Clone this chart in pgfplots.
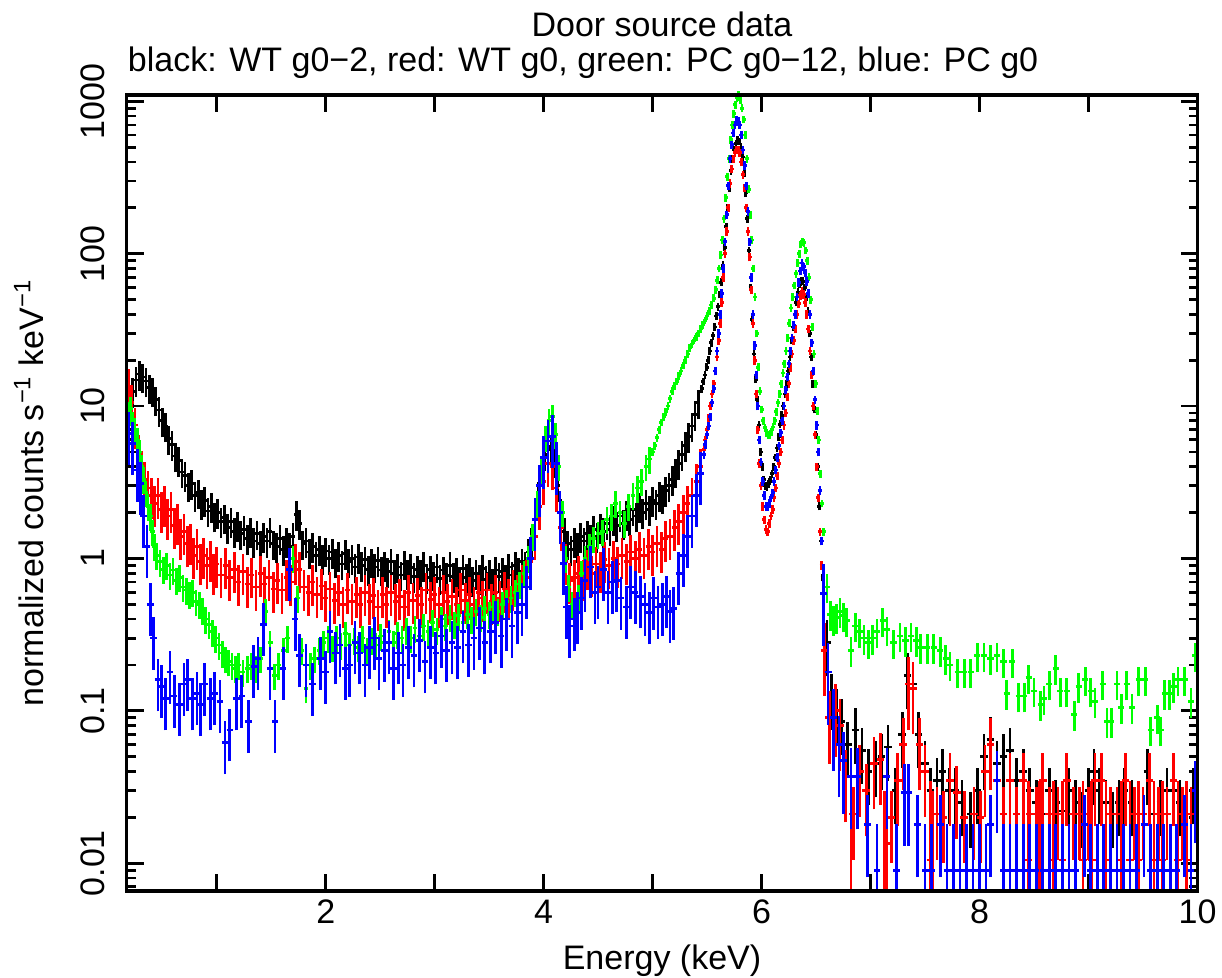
\documentclass[border=0pt]{standalone}
\usepackage{fontspec}
\setmainfont{Liberation Sans}
\usepackage{pgfplots}
\usepackage{pgfplotstable}
\pgfplotsset{compat=1.18}
\newcommand{\fs}{\fontsize{17}{20}\selectfont}
% cross marks: name, length down, length up, half width (error bars of fixed relative size on the log axis)
\newcommand{\xmark}[4]{\pgfdeclareplotmark{#1}{%
  \pgfpathmoveto{\pgfqpoint{0pt}{-#2}}\pgfpathlineto{\pgfqpoint{0pt}{#3}}%
  \pgfpathmoveto{\pgfqpoint{-#4}{0pt}}\pgfpathlineto{\pgfqpoint{#4}{0pt}}%
  \pgfusepathqstroke}}
\xmark{bA}{8.22pt}{6.58pt}{1.0pt}
\xmark{bB}{2.0pt}{1.9pt}{1.0pt}
\xmark{bC}{16.9pt}{11.13pt}{1.91pt}
\xmark{rA}{11.8pt}{8.68pt}{1.36pt}
\xmark{rB}{2.2pt}{2.0pt}{1.0pt}
\xmark{rC}{22.9pt}{13.4pt}{1.91pt}
\xmark{rF}{15.5pt}{39.4pt}{1.91pt}
\xmark{rZ}{0pt}{50pt}{0pt}
\xmark{gA}{7.38pt}{6.03pt}{1.2pt}
\xmark{gB}{2.0pt}{1.9pt}{1.0pt}
\xmark{gC}{8.22pt}{6.58pt}{1.53pt}
\xmark{uA}{15.8pt}{10.6pt}{1.63pt}
\xmark{uB}{2.2pt}{2.0pt}{1.0pt}
\xmark{uC}{26.4pt}{14.5pt}{1.74pt}
\xmark{uF}{10.4pt}{22.9pt}{1.63pt}
\pgfplotsset{xc/.style={only marks, mark=#1, mark options={solid, line width=1.35pt}}}

% ---------------- black: WT g0-2 ----------------
\pgfplotstableread[row sep=\\]{E y\\
0.20 9.5\\0.23 12.5\\0.26 14.8\\0.29 16.2\\0.32 15.5\\0.35 14.6\\0.38 13.2\\0.41 12.6\\0.44 11.0\\0.47 9.4\\
0.50 8.0\\0.53 7.4\\0.56 6.1\\0.59 5.6\\0.62 4.7\\0.65 4.4\\0.68 3.7\\0.71 3.5\\0.74 3.0\\0.77 3.1\\
0.80 2.6\\0.83 2.7\\0.86 2.3\\0.89 2.4\\0.92 2.05\\0.95 2.2\\0.98 1.9\\1.01 2.0\\1.04 1.75\\1.07 1.85\\
1.10 1.6\\1.13 1.75\\1.16 1.5\\1.19 1.65\\1.22 1.45\\1.25 1.55\\1.28 1.35\\1.31 1.5\\1.34 1.3\\1.37 1.45\\
1.40 1.25\\1.43 1.4\\1.46 1.3\\1.49 1.5\\1.52 1.25\\1.55 1.2\\1.58 1.35\\1.61 1.15\\1.64 1.3\\1.67 1.2\\
1.70 1.4\\1.73 1.95\\1.76 1.7\\1.79 1.25\\1.82 1.3\\1.85 1.1\\1.88 1.2\\1.91 1.05\\1.94 1.15\\1.97 1.0\\
2.00 1.12\\2.03 1.0\\2.06 1.1\\2.09 0.95\\2.12 1.05\\2.15 0.92\\2.18 1.08\\2.21 0.95\\2.24 1.0\\2.27 0.88\\
2.30 1.02\\2.33 0.9\\2.36 0.98\\2.39 0.85\\2.42 0.95\\2.45 0.88\\2.48 0.97\\2.51 0.84\\2.54 0.9\\2.57 0.82\\
2.60 0.95\\2.63 0.8\\2.66 0.88\\2.69 0.78\\2.72 0.92\\2.75 0.8\\2.78 0.87\\2.81 0.76\\2.84 0.85\\2.87 0.8\\
2.90 0.9\\2.93 0.75\\2.96 0.85\\2.99 0.78\\3.02 0.88\\3.05 0.74\\3.08 0.84\\3.11 0.77\\3.14 0.9\\3.17 0.76\\
3.20 0.83\\3.23 0.72\\3.26 0.86\\3.29 0.75\\3.32 0.82\\3.35 0.72\\3.38 0.8\\3.41 0.74\\3.44 0.86\\3.47 0.73\\
3.50 0.8\\3.53 0.7\\3.56 0.84\\3.59 0.76\\3.62 0.82\\3.65 0.74\\3.68 0.88\\3.71 0.78\\3.74 0.9\\3.77 0.82\\
3.80 0.95\\3.83 0.9\\3.86 1.1\\3.89 1.3\\3.92 1.8\\3.95 2.6\\3.98 3.8\\4.01 4.8\\4.04 5.4\\4.07 5.2\\
4.10 4.3\\4.13 3.0\\4.16 2.0\\4.19 1.5\\4.22 1.25\\4.25 1.15\\4.28 1.3\\4.31 1.2\\4.34 1.4\\4.37 1.3\\
4.40 1.45\\4.43 1.35\\4.46 1.55\\4.49 1.4\\4.52 1.6\\4.55 1.5\\4.58 1.7\\4.61 1.55\\4.64 1.8\\4.67 1.65\\
4.70 1.9\\4.73 1.7\\4.76 1.95\\4.79 1.8\\4.82 2.1\\4.85 1.9\\4.88 2.2\\4.91 2.0\\4.94 2.3\\4.97 2.1\\
5.00 2.4\\5.03 2.3\\5.06 2.6\\5.09 2.5\\5.12 2.8\\5.15 3.0\\5.18 3.3\\5.21 3.7\\5.24 4.2\\5.27 4.8\\
5.30 5.5\\5.33 6.3\\5.36 7.4\\5.39 8.8\\5.42 10.5\\
}\blackA
\pgfplotstableread[row sep=\\]{E y\\
5.45 13\\5.465 14.5\\5.48 16\\5.495 18\\5.51 20\\5.525 23\\5.54 26\\5.555 29\\5.57 33\\5.585 39\\
5.600 45\\5.615 54\\5.630 65\\5.645 84\\5.660 110\\5.675 150\\5.690 200\\5.705 270\\5.720 350\\5.735 420\\
5.750 480\\5.765 530\\5.780 560\\5.795 545\\5.810 500\\5.825 430\\5.840 340\\5.855 250\\5.870 170\\5.885 105\\
5.900 60\\5.915 37\\5.930 22\\5.945 15\\5.960 11\\5.975 7.5\\5.990 5\\6.005 4.0\\6.020 3.3\\6.035 3.0\\
6.05 2.96\\6.065 3.1\\6.08 3.3\\6.095 3.6\\6.11 4.0\\6.125 4.6\\6.14 5.3\\6.155 6.3\\6.17 7.6\\6.185 8.7\\
6.20 10\\6.215 12\\6.23 14\\6.245 17\\6.26 21\\6.275 27\\6.29 33\\6.305 40\\6.32 48\\6.335 56\\
6.35 63\\6.365 66\\6.38 66\\6.395 60\\6.41 52\\6.425 42\\6.44 30\\6.455 21\\6.47 14\\6.485 9.5\\
6.50 6.5\\6.515 4\\6.53 2.2\\6.545 1.3\\6.56 0.75\\
}\blackB
\pgfplotstableread[row sep=\\]{E y\\
6.60 0.28\\6.64 0.125\\6.69 0.10\\6.73 0.085\\6.79 0.06\\6.86 0.075\\6.92 0.055\\6.98 0.04\\7.05 0.045\\7.10 0.05\\
7.16 0.058\\7.23 0.03\\7.29 0.07\\7.34 0.17\\7.39 0.15\\7.44 0.07\\7.50 0.045\\7.55 0.03\\7.61 0.035\\7.66 0.04\\
7.72 0.03\\7.78 0.03\\7.84 0.025\\7.92 0.021\\7.98 0.03\\8.04 0.05\\8.10 0.065\\8.16 0.045\\8.22 0.05\\8.28 0.055\\
8.34 0.035\\8.40 0.04\\8.46 0.03\\8.52 0.025\\8.58 0.021\\8.64 0.03\\8.70 0.025\\8.76 0.022\\8.82 0.03\\8.88 0.025\\
8.94 0.021\\9.00 0.03\\9.05 0.04\\9.10 0.03\\9.16 0.025\\9.22 0.021\\9.28 0.025\\9.33 0.03\\9.40 0.025\\9.46 0.021\\
9.54 0.04\\9.60 0.021\\9.66 0.025\\9.72 0.03\\9.78 0.03\\9.84 0.025\\9.90 0.021\\9.96 0.03\\
}\blackC

% ---------------- red: WT g0 ----------------
\pgfplotstableread[row sep=\\]{E y\\
0.19 13.5\\0.22 10.5\\0.25 7.5\\0.28 5.0\\0.31 3.9\\0.34 3.3\\0.37 2.9\\0.40 2.6\\0.43 2.3\\0.46 2.6\\
0.49 2.1\\0.52 2.3\\0.55 1.9\\0.58 2.1\\0.61 1.65\\0.64 1.75\\0.67 1.4\\0.70 1.5\\0.73 1.25\\0.76 1.3\\
0.79 1.05\\0.82 1.2\\0.85 0.95\\0.88 1.05\\0.91 0.9\\0.94 1.0\\0.97 0.82\\1.00 0.92\\1.04 0.78\\1.08 0.9\\
1.12 0.75\\1.16 0.85\\1.20 0.7\\1.24 0.82\\1.28 0.68\\1.32 0.78\\1.36 0.65\\1.40 0.8\\1.44 0.68\\1.48 0.75\\
1.52 0.63\\1.56 0.72\\1.60 0.62\\1.64 0.75\\1.68 0.7\\1.72 0.95\\1.76 0.85\\1.80 0.65\\1.84 0.6\\1.88 0.7\\
1.92 0.58\\1.96 0.66\\2.00 0.55\\2.04 0.63\\2.08 0.53\\2.12 0.6\\2.16 0.5\\2.20 0.62\\2.24 0.52\\2.28 0.58\\
2.32 0.5\\2.36 0.6\\2.40 0.52\\2.44 0.57\\2.48 0.48\\2.52 0.58\\2.56 0.5\\2.60 0.6\\2.64 0.52\\2.68 0.56\\
2.72 0.48\\2.76 0.6\\2.80 0.53\\2.84 0.57\\2.88 0.5\\2.92 0.62\\2.96 0.54\\3.00 0.58\\3.04 0.5\\3.08 0.6\\
3.12 0.52\\3.16 0.56\\3.20 0.5\\3.24 0.62\\3.28 0.53\\3.32 0.58\\3.36 0.5\\3.40 0.6\\3.44 0.55\\3.48 0.62\\
3.52 0.52\\3.56 0.6\\3.60 0.55\\3.64 0.63\\3.68 0.56\\3.72 0.65\\3.76 0.6\\3.80 0.7\\3.84 0.75\\3.88 0.95\\
3.92 1.4\\3.96 2.2\\4.00 3.2\\4.04 4.2\\4.08 4.0\\4.12 2.9\\4.16 1.6\\4.20 0.95\\4.24 0.72\\4.28 0.75\\
4.32 0.8\\4.36 0.75\\4.40 0.88\\4.44 0.8\\4.48 0.92\\4.52 0.85\\4.56 0.98\\4.60 0.9\\4.64 1.0\\4.68 0.92\\
4.72 1.05\\4.76 0.95\\4.80 1.1\\4.84 1.0\\4.88 1.15\\4.92 1.05\\4.96 1.2\\5.00 1.1\\5.04 1.25\\5.08 1.15\\
5.12 1.35\\5.16 1.4\\5.20 1.6\\5.24 1.75\\5.28 2.0\\5.32 2.3\\5.36 2.6\\5.40 3.2\\5.44 4.0\\
}\redA
\pgfplotstableread[row sep=\\]{E y\\
5.47 5.2\\5.485 6\\5.50 7.0\\5.515 8.4\\5.53 10\\5.545 12\\5.56 14\\5.575 17\\5.59 21\\5.605 27\\
5.62 35\\5.635 48\\5.65 70\\5.665 100\\5.68 140\\5.695 200\\5.71 290\\5.725 360\\5.74 420\\5.755 460\\
5.77 480\\5.785 480\\5.80 460\\5.815 400\\5.83 330\\5.845 270\\5.86 200\\5.875 140\\5.89 95\\5.905 58\\
5.92 35\\5.935 20\\5.95 12\\5.965 7\\5.98 4.2\\5.995 3.0\\6.01 2.2\\6.025 1.8\\6.04 1.55\\6.055 1.5\\
6.07 1.7\\6.085 1.9\\6.10 2.1\\6.115 2.5\\6.13 2.9\\6.145 3.5\\6.16 4.2\\6.175 5\\6.19 6\\6.205 7.5\\
6.22 9\\6.235 11.5\\6.25 14\\6.265 18\\6.28 22\\6.295 27\\6.31 32\\6.325 40\\6.34 47\\6.355 53\\
6.37 57\\6.385 54\\6.40 48\\6.415 40\\6.43 32\\6.445 23\\6.46 16\\6.475 10\\6.49 6.5\\6.505 4\\
6.52 2.5\\6.535 1.5\\6.55 0.9\\
}\redB
\pgfplotstableread[row sep=\\]{E y\\
6.58 0.25\\6.62 0.09\\6.68 0.1\\6.72 0.08\\6.77 0.037\\6.84 0.021\\6.90 0.04\\6.96 0.03\\7.03 0.045\\7.09 0.048\\
7.15 0.0135\\7.19 0.02\\7.25 0.035\\7.30 0.06\\7.35 0.15\\7.39 0.14\\7.45 0.06\\7.50 0.04\\7.61 0.021\\7.67 0.02\\
7.73 0.035\\7.79 0.029\\7.86 0.02\\7.95 0.021\\8.01 0.02\\8.05 0.04\\8.10 0.06\\8.16 0.035\\8.22 0.021\\8.28 0.035\\
8.34 0.021\\8.40 0.035\\8.46 0.021\\8.52 0.021\\8.58 0.035\\8.64 0.021\\8.72 0.021\\8.80 0.035\\8.86 0.021\\8.92 0.021\\
9.00 0.021\\9.06 0.035\\9.12 0.035\\9.20 0.021\\9.26 0.021\\9.34 0.035\\9.42 0.021\\9.50 0.021\\9.56 0.035\\9.64 0.021\\
9.72 0.021\\9.78 0.035\\9.86 0.021\\9.94 0.021\\
}\redC
\pgfplotstableread[row sep=\\]{E y\\
7.55 0.0105\\8.45 0.0105\\8.55 0.0105\\8.68 0.0105\\8.76 0.0105\\8.95 0.0105\\9.03 0.0105\\9.16 0.0105\\
9.30 0.0105\\9.38 0.0105\\9.46 0.0105\\9.60 0.0105\\9.68 0.0105\\9.82 0.0105\\9.90 0.0105\\
}\redF
\pgfplotstableread[row sep=\\]{E y\\
6.82 0.00657\\7.13 0.00657\\7.57 0.00657\\
}\redZ

% ---------------- green: PC g0-12 ----------------
\pgfplotstableread[row sep=\\]{E y\\
0.19 8.9\\0.21 9.6\\0.23 7.6\\0.25 7.0\\0.27 6.0\\0.29 5.0\\0.31 4.0\\0.33 3.3\\0.35 2.7\\0.37 2.2\\
0.39 1.9\\0.41 1.5\\0.43 1.2\\0.45 1.05\\0.48 0.95\\0.51 0.85\\0.54 0.9\\0.57 0.78\\0.60 0.84\\0.63 0.72\\
0.66 0.75\\0.69 0.65\\0.72 0.62\\0.75 0.58\\0.78 0.6\\0.81 0.52\\0.84 0.5\\0.87 0.46\\0.90 0.4\\0.93 0.37\\
0.96 0.33\\0.99 0.3\\1.02 0.27\\1.05 0.24\\1.08 0.22\\1.11 0.21\\1.14 0.2\\1.17 0.19\\1.20 0.2\\1.24 0.18\\
1.28 0.19\\1.32 0.2\\1.36 0.19\\1.40 0.22\\1.45 0.45\\1.49 0.28\\1.53 0.17\\1.57 0.2\\1.61 0.25\\1.65 0.3\\
1.70 1.0\\1.74 0.55\\1.78 0.25\\1.82 0.14\\1.86 0.2\\1.90 0.22\\1.94 0.25\\1.98 0.28\\2.02 0.3\\2.06 0.26\\
2.10 0.3\\2.14 0.27\\2.18 0.32\\2.22 0.27\\2.26 0.29\\2.30 0.26\\2.34 0.3\\2.38 0.25\\2.42 0.29\\2.46 0.27\\
2.50 0.31\\2.54 0.28\\2.58 0.33\\2.62 0.28\\2.66 0.32\\2.70 0.3\\2.74 0.34\\2.78 0.3\\2.82 0.35\\2.86 0.31\\
2.90 0.36\\2.94 0.33\\2.98 0.38\\3.02 0.34\\3.06 0.4\\3.10 0.36\\3.14 0.41\\3.18 0.37\\3.22 0.42\\3.26 0.38\\
3.30 0.43\\3.34 0.4\\3.38 0.45\\3.42 0.41\\3.46 0.47\\3.50 0.43\\3.54 0.48\\3.58 0.45\\3.62 0.5\\3.66 0.52\\
3.70 0.55\\3.74 0.6\\3.78 0.68\\3.82 0.8\\3.86 1.0\\3.90 1.4\\3.94 2.3\\3.98 3.8\\4.02 6.2\\4.05 8.0\\
4.08 8.5\\4.11 6.5\\4.14 4.0\\4.17 2.0\\4.20 1.0\\4.23 0.65\\4.26 0.5\\4.29 0.44\\4.32 0.56\\4.35 0.8\\
4.38 1.0\\4.42 1.2\\4.46 1.35\\4.50 1.45\\4.54 1.5\\4.58 1.8\\4.62 1.9\\4.66 2.3\\4.70 2.0\\4.74 1.7\\
4.78 2.2\\4.82 2.6\\4.86 2.9\\4.90 3.2\\4.94 4.0\\4.97 4.5\\
}\greenA
\pgfplotstableread[row sep=\\]{E y\\
5.00 5.0\\5.02 5.5\\5.04 6.2\\5.06 7.0\\5.08 7.8\\5.10 8.5\\5.12 9.2\\5.14 10\\5.16 11.2\\5.18 12.5\\
5.20 13.5\\5.22 14.5\\5.24 15.8\\5.26 17\\5.28 18.5\\5.30 20\\5.32 22\\5.34 24\\5.36 25.5\\5.38 27\\
5.40 28.5\\5.42 30\\5.44 32\\5.46 34\\5.48 36.5\\5.50 39\\5.52 42\\5.54 46\\5.56 51\\5.58 58\\
5.595 67\\5.61 80\\5.625 98\\5.64 123\\5.655 170\\5.67 233\\5.685 320\\5.70 420\\5.715 560\\5.73 700\\
5.745 830\\5.76 950\\5.775 1050\\5.79 1100\\5.805 1020\\5.82 900\\5.835 760\\5.85 600\\5.865 420\\5.88 265\\
5.895 180\\5.91 123\\5.925 80\\5.94 52\\5.955 30\\5.97 18\\5.985 12.5\\6.00 9.5\\6.015 8\\6.03 7.2\\
6.045 6.7\\6.06 6.5\\6.075 6.5\\6.09 6.8\\6.105 7.3\\6.12 8\\6.135 9.2\\6.15 10.5\\6.165 12\\6.18 14\\
6.195 16.5\\6.21 19\\6.225 23\\6.24 28\\6.255 35\\6.27 44\\6.285 52\\6.30 62\\6.315 74\\6.33 87\\
6.345 100\\6.36 115\\6.375 120\\6.39 118\\6.405 105\\6.42 90\\6.435 70\\6.45 50\\6.465 33\\6.48 22\\
6.495 14\\6.51 9.3\\6.525 6\\6.54 3.6\\6.555 2.3\\6.57 1.5\\
}\greenB
\pgfplotstableread[row sep=\\]{E y\\
6.60 0.65\\6.63 0.43\\6.66 0.4\\6.69 0.41\\6.72 0.45\\6.75 0.42\\6.78 0.39\\6.82 0.25\\6.86 0.36\\6.90 0.33\\
6.94 0.3\\6.98 0.28\\7.02 0.3\\7.06 0.33\\7.11 0.39\\7.15 0.34\\7.21 0.28\\7.27 0.31\\7.32 0.29\\7.37 0.31\\
7.42 0.29\\7.46 0.26\\7.52 0.26\\7.58 0.26\\7.64 0.25\\7.69 0.22\\7.73 0.2\\7.80 0.18\\7.86 0.18\\7.92 0.18\\
7.98 0.23\\8.04 0.23\\8.10 0.22\\8.16 0.23\\8.22 0.21\\8.25 0.13\\8.30 0.21\\8.36 0.125\\8.41 0.125\\8.45 0.165\\
8.50 0.135\\8.56 0.11\\8.59 0.12\\8.64 0.15\\8.70 0.19\\8.74 0.135\\8.80 0.135\\8.87 0.095\\8.91 0.145\\8.97 0.16\\
9.02 0.135\\9.06 0.115\\9.13 0.15\\9.17 0.085\\9.21 0.085\\9.26 0.15\\9.30 0.105\\9.35 0.15\\9.40 0.105\\9.46 0.16\\
9.52 0.16\\9.57 0.075\\9.63 0.09\\9.66 0.075\\9.70 0.13\\9.74 0.13\\9.78 0.145\\9.82 0.16\\9.88 0.16\\9.94 0.115\\
9.98 0.23\\
}\greenC

% ---------------- blue: PC g0 ----------------
\pgfplotstableread[row sep=\\]{E y\\
0.19 6.6\\0.23 5.7\\0.27 3.8\\0.30 3.1\\0.33 1.9\\0.36 1.2\\0.39 0.5\\0.42 0.3\\0.46 0.16\\0.49 0.145\\
0.53 0.12\\0.57 0.18\\0.61 0.125\\0.66 0.11\\0.70 0.15\\0.73 0.16\\0.78 0.12\\0.82 0.13\\0.85 0.11\\0.89 0.15\\
0.94 0.12\\0.98 0.13\\1.03 0.115\\1.076 0.062\\1.12 0.075\\1.18 0.12\\1.23 0.125\\1.29 0.085\\1.34 0.195\\1.38 0.22\\
1.43 0.37\\1.49 0.19\\1.535 0.085\\1.61 0.19\\1.67 0.85\\1.72 0.4\\1.76 0.23\\1.82 0.2\\1.88 0.15\\1.95 0.22\\
2.00 0.18\\2.04 0.33\\2.09 0.24\\2.13 0.27\\2.18 0.19\\2.22 0.2\\2.27 0.28\\2.31 0.24\\2.36 0.2\\2.40 0.26\\
2.45 0.3\\2.49 0.22\\2.54 0.25\\2.58 0.28\\2.62 0.19\\2.67 0.24\\2.71 0.2\\2.76 0.26\\2.81 0.23\\2.86 0.29\\
2.91 0.21\\2.96 0.26\\3.01 0.24\\3.06 0.31\\3.11 0.25\\3.16 0.28\\3.21 0.26\\3.26 0.33\\3.31 0.27\\3.36 0.3\\
3.41 0.35\\3.46 0.28\\3.51 0.33\\3.56 0.38\\3.61 0.31\\3.66 0.4\\3.71 0.36\\3.76 0.44\\3.80 0.5\\3.84 0.65\\
3.88 1.0\\3.92 1.8\\3.96 3.0\\4.00 4.6\\4.04 5.9\\4.08 6.3\\4.12 4.2\\4.15 2.0\\4.18 0.93\\4.21 0.48\\
4.24 0.36\\4.28 0.4\\4.31 0.44\\4.35 0.55\\4.38 0.72\\4.43 0.88\\4.47 0.6\\4.50 0.65\\4.55 0.85\\4.59 0.6\\
4.63 0.7\\4.67 0.72\\4.71 0.55\\4.76 0.48\\4.80 0.65\\4.84 0.6\\4.89 0.56\\4.93 0.5\\4.97 0.44\\5.01 0.55\\
5.05 0.48\\5.09 0.5\\5.13 0.56\\5.16 0.45\\5.19 0.47\\5.24 0.8\\5.28 1.05\\5.32 1.4\\5.36 1.9\\5.40 2.6\\
5.44 3.6\\
}\blueA
\pgfplotstableread[row sep=\\]{E y\\
5.47 4.8\\5.485 5.6\\5.50 6.5\\5.515 7.4\\5.53 8.5\\5.545 10.5\\5.56 13\\5.575 17\\5.59 23\\5.605 30\\
5.62 40\\5.635 55\\5.65 80\\5.665 120\\5.68 180\\5.695 280\\5.71 420\\5.725 520\\5.74 620\\5.755 700\\
5.77 757\\5.785 740\\5.80 700\\5.815 600\\5.83 480\\5.845 380\\5.86 280\\5.875 190\\5.89 120\\5.905 70\\
5.92 40\\5.935 25\\5.95 16\\5.965 10\\5.98 6\\5.995 4.3\\6.01 3.2\\6.025 2.6\\6.04 2.2\\6.055 2.2\\
6.07 2.3\\6.085 2.5\\6.10 2.7\\6.115 3.2\\6.13 3.8\\6.145 4.6\\6.16 5.5\\6.175 6.7\\6.19 8\\6.205 10\\
6.22 12.8\\6.235 15.5\\6.25 19\\6.265 23\\6.28 28\\6.295 34\\6.31 40\\6.325 52\\6.34 65\\6.355 77\\
6.37 87\\6.385 82\\6.40 75\\6.415 66\\6.43 55\\6.445 40\\6.46 26\\6.475 17\\6.49 11\\6.505 7.5\\
6.52 5\\6.535 2.8\\6.55 1.3\\
}\blueB
\pgfplotstableread[row sep=\\]{E y\\
6.57 0.59\\6.61 0.18\\6.66 0.09\\6.71 0.06\\6.75 0.047\\6.82 0.037\\6.88 0.037\\6.97 0.018\\7.15 0.037\\7.31 0.029\\
7.35 0.029\\7.43 0.018\\7.64 0.018\\8.10 0.018\\8.16 0.035\\8.96 0.018\\9.51 0.018\\9.88 0.018\\9.98 0.03\\
}\blueC
\pgfplotstableread[row sep=\\]{E y\\
7.06 0.009\\7.24 0.009\\7.50 0.009\\7.56 0.009\\7.70 0.009\\7.76 0.009\\7.82 0.009\\7.88 0.009\\7.94 0.009\\8.00 0.009\\
8.06 0.009\\8.22 0.009\\8.28 0.009\\8.34 0.009\\8.40 0.009\\8.46 0.009\\8.52 0.009\\8.58 0.009\\8.64 0.009\\8.70 0.009\\
8.76 0.009\\8.82 0.009\\8.88 0.009\\9.02 0.009\\9.08 0.009\\9.14 0.009\\9.20 0.009\\9.26 0.009\\9.32 0.009\\9.38 0.009\\
9.44 0.009\\9.57 0.009\\9.63 0.009\\9.69 0.009\\9.75 0.009\\9.81 0.009\\9.94 0.009\\
}\blueF

\begin{document}
\begin{tikzpicture}
\begin{axis}[name=ax, at={(0,0)}, anchor=south west,
  scale only axis, width=535.5pt, height=398pt,
  xmin=0.172, xmax=10, ymode=log, ymin=0.00657, ymax=1100,
  xtick={1,2,3,4,5,6,7,8,9,10}, xticklabels={,2,,4,,6,,8,,10},
  ytick={0.01,0.1,1,10,100,1000}, yticklabels={0.01,0.1,1,10,100,1000},
  minor ytick={0.007,0.008,0.009,0.02,0.03,0.04,0.05,0.06,0.07,0.08,0.09,
    0.2,0.3,0.4,0.5,0.6,0.7,0.8,0.9,2,3,4,5,6,7,8,9,
    20,30,40,50,60,70,80,90,200,300,400,500,600,700,800,900},
  tick align=inside, major tick length=8.5pt, minor tick length=4.5pt,
  every tick/.style={black, line width=1.4pt},
  tick label style={font=\fs},
  /pgf/number format/assume math mode=true,
  xticklabel style={anchor=base, yshift=-16.5pt},
  yticklabel style={xshift=-10.75pt, rotate=90, anchor=base},
  axis line style={line width=1.7pt},
  clip=true]

\addplot[black, xc=bA] table {\blackA};
\addplot[black, xc=bB] table {\blackB};
\addplot[black, xc=bC] table {\blackC};

\addplot[red, xc=rA] table {\redA};
\addplot[red, xc=rB] table {\redB};
\addplot[red, xc=rC] table {\redC};
\addplot[red, xc=rF] table {\redF};
\addplot[red, xc=rZ] table {\redZ};

\addplot[green, xc=gA] table {\greenA};
\addplot[green, xc=gB] table {\greenB};
\addplot[green, xc=gC] table {\greenC};

\addplot[blue, xc=uA] table {\blueA};
\addplot[blue, xc=uB] table {\blueB};
\addplot[blue, xc=uC] table {\blueC};
\addplot[blue, xc=uF] table {\blueF};
\end{axis}
\draw[line width=1.7pt] (ax.south west) rectangle (ax.north east);
\node[anchor=base, font=\fs] at ([yshift=29pt]ax.north) {Door source data};
\node[anchor=base west, font=\fs, inner sep=0pt] at ([xshift=0.5pt, yshift=11.5pt]ax.north west) {black: WT g0−2, red: WT g0, green: PC g0−12, blue: PC g0};
\node[anchor=base, font=\fs] at ([yshift=-39.5pt]ax.south) {Energy (keV)};
\node[rotate=90, anchor=base, font=\fs] at ([xshift=-41.75pt]ax.west) {normalized counts s\textsuperscript{−1} keV\textsuperscript{−1}};
\pgfresetboundingbox
\path[use as bounding box] (-63.25pt,-43.5pt) rectangle (547.75pt,445.5pt);
\end{tikzpicture}
\end{document}
